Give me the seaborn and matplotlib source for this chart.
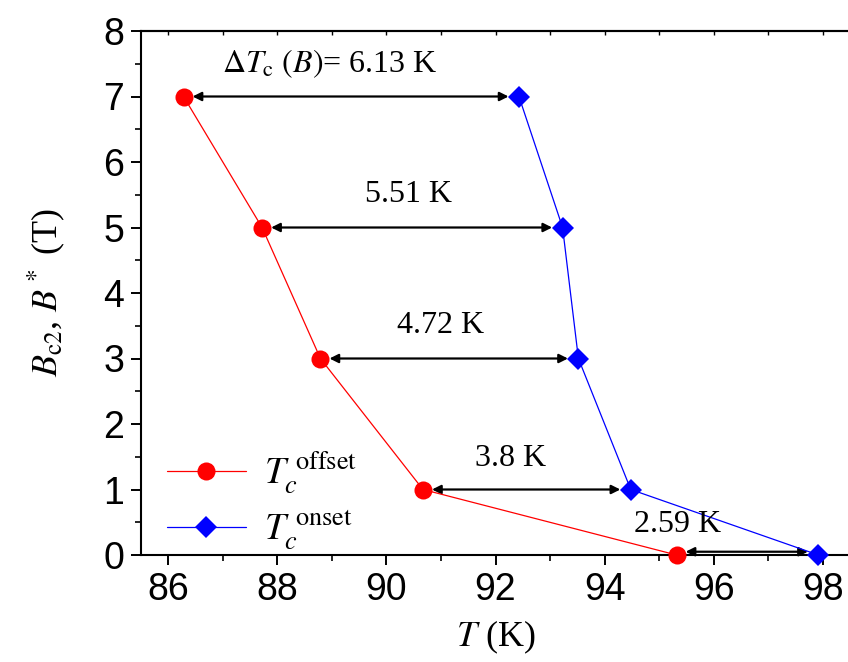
import numpy as np
import pandas as pd
import seaborn as sns
import matplotlib
matplotlib.use("Agg")
from matplotlib import pyplot as plt
from matplotlib.ticker import MultipleLocator

# field values (T) and the two critical temperatures (K)
B = [7, 5, 3, 1, 0]
Tc_offset = [86.28, 87.72, 88.79, 90.67, 95.32]
Tc_onset = [92.43, 93.23, 93.52, 94.48, 97.92]
dT_labels = ["6.13 K", "5.51 K", "4.72 K", "3.8 K", "2.59 K"]
# where the gap labels sit (T, B)
label_T = [88.97, 90.40, 91.00, 92.28, 95.34]
label_B = [7.50, 5.50, 3.50, 1.48, 0.46]

sns.set_style("ticks")
plt.rcParams["font.family"] = ["Liberation Sans", "DejaVu Sans"]
plt.rcParams["mathtext.fontset"] = "stix"
for k in ["text.color", "axes.labelcolor", "xtick.color", "ytick.color", "axes.edgecolor"]:
    plt.rcParams[k] = "black"

fig = plt.figure(figsize=(8.48, 6.62), dpi=100)
ax = fig.add_axes([141 / 848, 1 - 555 / 662, 709 / 848, 524 / 662])

df = pd.DataFrame({"B": B, "off": Tc_offset, "on": Tc_onset})

sns.lineplot(data=df, x="off", y="B", sort=False, estimator=None, ax=ax,
             color="#ff0000", lw=0.9, marker="o", markersize=13,
             markeredgewidth=0, label=r"$T_c^{\ \rm offset}$")
sns.lineplot(data=df, x="on", y="B", sort=False, estimator=None, ax=ax,
             color="#0000ff", lw=0.9, marker="D", markersize=11,
             markeredgewidth=0, label=r"$T_c^{\ \rm onset}$")
for ln in ax.lines:
    ln.set_clip_on(False)
    ln.set_zorder(5)

# double arrows between offset and onset
for i in range(len(B)):
    yy = B[i] + (0.05 if B[i] == 0 else 0)
    ax.annotate("", xy=(Tc_onset[i], yy), xytext=(Tc_offset[i], yy),
                arrowprops=dict(arrowstyle="<|-|>", color="black", lw=1.6,
                                mutation_scale=13, shrinkA=6.5, shrinkB=7.5),
                zorder=4, annotation_clip=False)
    if i == 0:
        txt = r"$\Delta T_{\rm c}\ (B)$= " + dT_labels[i]
    else:
        txt = dT_labels[i]
    ax.text(label_T[i], label_B[i], txt, ha="center", va="center",
            fontsize=23, family="Liberation Serif", zorder=6)

ax.set_xlim(85.5, 98.5)
ax.set_ylim(0, 8)
ax.xaxis.set_major_locator(MultipleLocator(2))
ax.xaxis.set_minor_locator(MultipleLocator(1))
ax.yaxis.set_major_locator(MultipleLocator(1))
ax.yaxis.set_minor_locator(MultipleLocator(0.5))

ax.tick_params(axis="both", which="major", direction="out", length=7,
               width=1.4, labelsize=27, pad=5)
ax.tick_params(axis="both", which="minor", direction="out", length=4, width=1.2)

# small inward ticks along the top spine
top = ax.secondary_xaxis("top")
top.xaxis.set_major_locator(MultipleLocator(1))
top.tick_params(direction="in", length=3, width=1, labeltop=False)
top.spines["top"].set_linewidth(1.5)

for s in ["left", "bottom", "top"]:
    ax.spines[s].set_linewidth(1.5)
ax.spines["right"].set_visible(False)

ax.set_xlabel(r"$T$ (K)", fontsize=26, family="Liberation Serif", labelpad=8)
ax.set_ylabel(r"$B_{\rm c2}$, $B^*$ (T)", fontsize=26, family="Liberation Serif",
              labelpad=26)

leg = ax.legend(loc="lower left", bbox_to_anchor=(0.01, -0.03), frameon=False,
                fontsize=27, handlelength=2.1, labelspacing=0.3,
                handletextpad=0.5, borderaxespad=0.1)

fig.savefig("out.png", dpi=100)
